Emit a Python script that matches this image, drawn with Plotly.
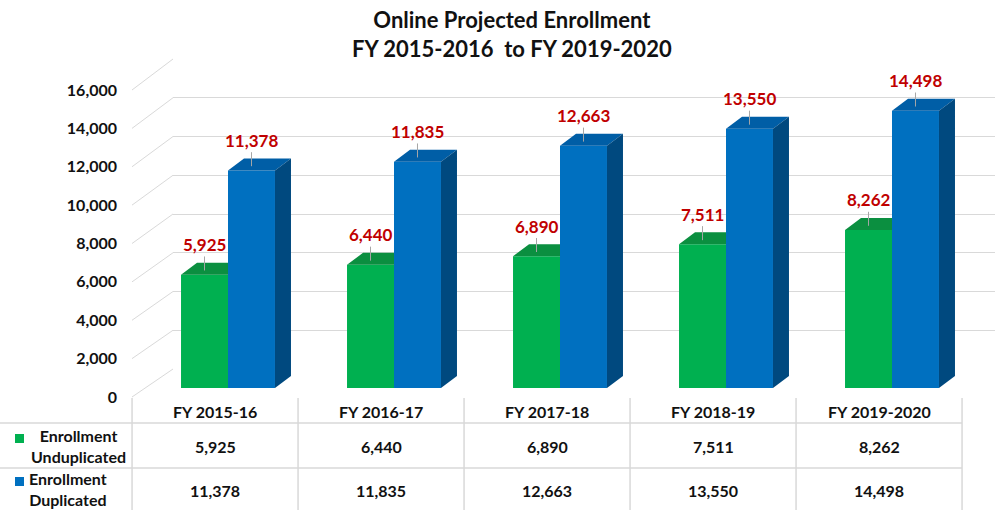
import plotly.graph_objects as go

# ---------------- data ----------------
categories = ["FY 2015-16", "FY 2016-17", "FY 2017-18", "FY 2018-19", "FY 2019-2020"]
unduplicated = [5925, 6440, 6890, 7511, 8262]
duplicated = [11378, 11835, 12663, 13550, 14498]
series_names = ["Enrollment Unduplicated", "Enrollment Duplicated"]
y_ticks = [0, 2000, 4000, 6000, 8000, 10000, 12000, 14000, 16000]
title_lines = ["Online Projected Enrollment", "FY 2015-2016 &nbsp;to FY 2019-2020"]

# ---------------- style ----------------
W, H = 995, 510
FONT = "Lato"
GREEN, GREEN_TOP = "#00B050", "#0B8F40"
BLUE, BLUE_TOP, BLUE_SIDE = "#0070C0", "#005EA6", "#00497F"
RED = "#C00000"
GRID = "#D9D9D9"


def px(xp):
    return xp / W


def py(yp):
    return 1 - yp / H


# axis domains (paper)
back_x = [px(173), 1.0]
back_y = [py(369), py(59)]
bar_x = [px(145), px(975)]
bar_y = [py(388), py(82)]
front_y = [py(397), py(90)]
front_xpos = px(132)

ymax = 16000
bw = 0.283          # bar width in category units
ddx = 16 / 166      # depth offset in category units
ddy = 12 / ((bar_y[1] - bar_y[0]) * H) * ymax  # depth offset in data units


def x2p(u):
    return bar_x[0] + (u + 0.5) / 5 * (bar_x[1] - bar_x[0])


fig = go.Figure()

# back-wall gridlines subplot (x / y)
fig.add_trace(go.Scatter(x=[None], y=[None], xaxis="x", yaxis="y",
                         showlegend=False, hoverinfo="skip"))

# bars subplot (x2 / y2)
xs = list(range(len(categories)))
fig.add_trace(go.Bar(x=xs, y=unduplicated, width=bw, offset=-bw,
                     marker=dict(color=GREEN, line=dict(width=0)),
                     name=series_names[0], xaxis="x2", yaxis="y2", showlegend=False))
fig.add_trace(go.Bar(x=xs, y=duplicated, width=bw, offset=0,
                     marker=dict(color=BLUE, line=dict(width=0)),
                     name=series_names[1], xaxis="x2", yaxis="y2", showlegend=False))

# 3D faces computed from values
gtx, gty, btx, bty, bsx, bsy = [], [], [], [], [], []
for i, (g, b) in enumerate(zip(unduplicated, duplicated)):
    gl, gr = i - bw, i
    gtx += [gl, gl + ddx, gr, gr, gl, None]
    gty += [g, g + ddy, g + ddy, g, g, None]
    bl, br = i, i + bw
    btx += [bl, bl + ddx, br + ddx, br, bl, None]
    bty += [b, b + ddy, b + ddy, b, b, None]
    bsx += [br, br, br + ddx, br + ddx, br, None]
    bsy += [0, b, b + ddy, ddy, 0, None]

for fx, fy, col in [(gtx, gty, GREEN_TOP), (btx, bty, BLUE_TOP), (bsx, bsy, BLUE_SIDE)]:
    fig.add_trace(go.Scatter(x=fx, y=fy, mode="lines", fill="toself", fillcolor=col,
                             line=dict(width=0, color=col), xaxis="x2", yaxis="y2",
                             showlegend=False, hoverinfo="skip"))

# front tick labels subplot (x3 / y3)
fig.add_trace(go.Scatter(x=[None], y=[None], xaxis="x3", yaxis="y3",
                         showlegend=False, hoverinfo="skip"))

annotations = []
shapes = []

# data labels with leader lines
for i, (g, b) in enumerate(zip(unduplicated, duplicated)):
    for xc, v in [(i - bw / 2, g), (i + bw / 2, b)]:
        annotations.append(dict(
            x=xc, y=v + ddy * 0.35, xref="x2", yref="y2",
            text=f"{v:,}", showarrow=True, ax=0, ay=-26,
            arrowhead=0, arrowwidth=1, arrowcolor="#A6A6A6",
            standoff=0, startstandoff=0,
            font=dict(family=FONT, size=17, color=RED, weight="bold")))

# diagonal floor/wall connectors
for t in y_ticks:
    yf = front_y[0] + t / ymax * (front_y[1] - front_y[0])
    yb = back_y[0] + t / ymax * (back_y[1] - back_y[0])
    shapes.append(dict(type="line", xref="paper", yref="paper",
                       x0=front_xpos, y0=yf, x1=back_x[0], y1=yb,
                       line=dict(color=GRID, width=1)))

# data table
col_left = [x2p(i - 0.578) for i in range(len(categories) + 1)]
col_center = [x2p(i - 0.078) for i in range(len(categories))]
for xl in col_left:
    shapes.append(dict(type="line", xref="paper", yref="paper",
                       x0=xl, x1=xl, y0=py(398), y1=0,
                       line=dict(color=GRID, width=1.5)))
for yl in [423, 468]:
    shapes.append(dict(type="line", xref="paper", yref="paper",
                       x0=0, x1=col_left[-1], y0=py(yl), y1=py(yl),
                       line=dict(color=GRID, width=1.5)))

tfont = dict(family=FONT, size=16, color="#111111", weight="bold")
for xc, cat, g, b in zip(col_center, categories, unduplicated, duplicated):
    annotations.append(dict(x=xc, y=py(411), xref="paper", yref="paper", text=cat,
                            showarrow=False, xanchor="center", yanchor="middle", font=tfont))
    annotations.append(dict(x=xc, y=py(446), xref="paper", yref="paper", text=f"{g:,}",
                            showarrow=False, xanchor="center", yanchor="middle", font=tfont))
    annotations.append(dict(x=xc, y=py(490), xref="paper", yref="paper", text=f"{b:,}",
                            showarrow=False, xanchor="center", yanchor="middle", font=tfont))

# legend column
for name, col, ytop, xc in [(series_names[0], GREEN, 434, 78), (series_names[1], BLUE, 477, 68)]:
    shapes.append(dict(type="rect", xref="paper", yref="paper",
                       x0=px(15), x1=px(24), y0=py(ytop), y1=py(ytop + 9),
                       fillcolor=col, line=dict(width=0)))
    annotations.append(dict(x=px(xc), y=py(ytop + 12), xref="paper", yref="paper",
                            text=name.replace(" ", "<br>"), showarrow=False,
                            xanchor="center", yanchor="middle", align="center",
                            font=tfont))

# title
annotations.append(dict(x=px(512), y=py(34), xref="paper", yref="paper",
                        text="<br>".join(title_lines), showarrow=False,
                        xanchor="center", yanchor="middle", align="center",
                        font=dict(family=FONT, size=22, color="#111111", weight="bold")))

fig.update_layout(
    template="none",
    width=W, height=H, autosize=False,
    margin=dict(l=0, r=0, t=0, b=0, pad=0, autoexpand=False),
    paper_bgcolor="white", plot_bgcolor="rgba(0,0,0,0)",
    showlegend=False,
    xaxis=dict(domain=back_x, range=[0, 1], visible=False, automargin=False),
    yaxis=dict(domain=back_y, range=[-5, ymax + 5], anchor="x", tickvals=y_ticks,
               showgrid=True, gridcolor=GRID, gridwidth=1, zeroline=False,
               showticklabels=False, showline=False, ticks="", automargin=False),
    xaxis2=dict(domain=bar_x, range=[-0.5, 4.5], anchor="y2", visible=False, automargin=False),
    yaxis2=dict(domain=bar_y, range=[0, ymax], anchor="x2", visible=False, automargin=False),
    xaxis3=dict(domain=[front_xpos, front_xpos + 0.001], range=[0, 1], anchor="y3",
                visible=False, automargin=False),
    yaxis3=dict(domain=front_y, range=[0, ymax], anchor="x3", tickvals=y_ticks,
                ticktext=[f"{t:,}" for t in y_ticks], showgrid=False, zeroline=False,
                showline=False, ticks="", ticklabelstandoff=14, automargin=False,
                tickfont=dict(family=FONT, size=16, color="#111111", weight="bold")),
    shapes=shapes,
    annotations=annotations,
)

fig.write_html("out.html")
